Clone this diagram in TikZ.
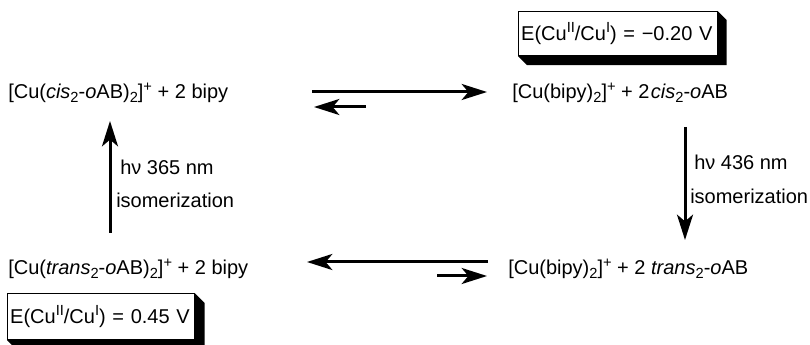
\documentclass[tikz,border=0pt]{standalone}
\usepackage{fontspec}
\setmainfont{Liberation Sans}
\usetikzlibrary{arrows.meta}
\newcommand\sbs[1]{\raisebox{-0.35ex}{\fontsize{11}{12}\selectfont #1}}
\newcommand\sps[1]{\raisebox{0.75ex}{\fontsize{11}{12}\selectfont #1}}
\begin{document}
\begin{tikzpicture}[x=0.75pt,y=-0.75pt,
  chem/.style={anchor=base west,inner sep=0pt,font=\fontsize{15}{18}\selectfont},
  ebox/.style={anchor=north west,draw,fill=white,line width=0.8pt,inner xsep=2pt,inner ysep=0pt,
    align=left,font=\fontsize{15}{18}\selectfont},
  shade/.style={fill=black},
  rxn/.style={line width=2.25pt,-{Stealth[length=19pt,width=12pt,inset=5pt]}},
]
\useasboundingbox (0,0) rectangle (810,345);
% species
\node[chem] (tl) at (8,99) {[Cu(\textit{cis}\sbs{2}-\textit{o}AB)\sbs{2}]\sps{+} + 2 bipy};
\node[chem] (tr) at (512,99) {[Cu(bipy)\sbs{2}]\sps{+} + 2\kern1pt\textit{cis}\sbs{2}-\textit{o}AB};
\node[chem] (bl) at (8,275) {[Cu(\textit{trans}\sbs{2}-\textit{o}AB)\sbs{2}]\sps{+} + 2 bipy};
\node[chem] (br) at (508,275) {[Cu(bipy)\sbs{2}]\sps{+} + 2 \textit{trans}\sbs{2}-\textit{o}AB};
% potential boxes
\node[ebox,minimum width=149pt,text width=145pt,minimum height=33pt] (e1) at (518,11) {E(Cu\sps{II}/Cu\sps{I}) = −0.20 V};
\fill[shade] (e1.north east) -- ([shift={(9,9)}]e1.north east) -- ([shift={(9,9)}]e1.south east)
  -- ([shift={(9,9)}]e1.south west) -- (e1.south west) -- (e1.south east) -- cycle;
\node[ebox,minimum width=140pt,text width=136pt,minimum height=34.5pt] (e2) at (7,293) {E(Cu\sps{II}/Cu\sps{I}) = 0.45 V};
\fill[shade] (e2.north east) -- ([shift={(10,10)}]e2.north east) -- ([shift={(10,10)}]e2.south east)
  -- ([shift={(10,10)}]e2.south west) -- (e2.south west) -- (e2.south east) -- cycle;
% photo labels
\node[chem] (l1) at (120,175) {hν 365 nm};
\node[chem] (l2) at (116,208) {isomerization};
\node[chem] (l3) at (694,170) {hν 436 nm};
\node[chem] (l4) at (690,204) {isomerization};
% arrow end points
\coordinate (f1s) at (312,92);  \coordinate (f1e) at (487,92);
\coordinate (b1s) at (366,107); \coordinate (b1e) at (314,107);
\coordinate (f2s) at (488,262); \coordinate (f2e) at (307,262);
\coordinate (b2s) at (437,276); \coordinate (b2e) at (487,276);
\coordinate (v1s) at (110,233); \coordinate (v1e) at (110,121);
\coordinate (v2s) at (685,127); \coordinate (v2e) at (685,240);
\draw[rxn] (f1s) -- (f1e);
\draw[rxn] (b1s) -- (b1e);
\draw[rxn] (f2s) -- (f2e);
\draw[rxn] (b2s) -- (b2e);
\draw[rxn] (v1s) -- (v1e);
\draw[rxn] (v2s) -- (v2e);
\end{tikzpicture}
\end{document}
